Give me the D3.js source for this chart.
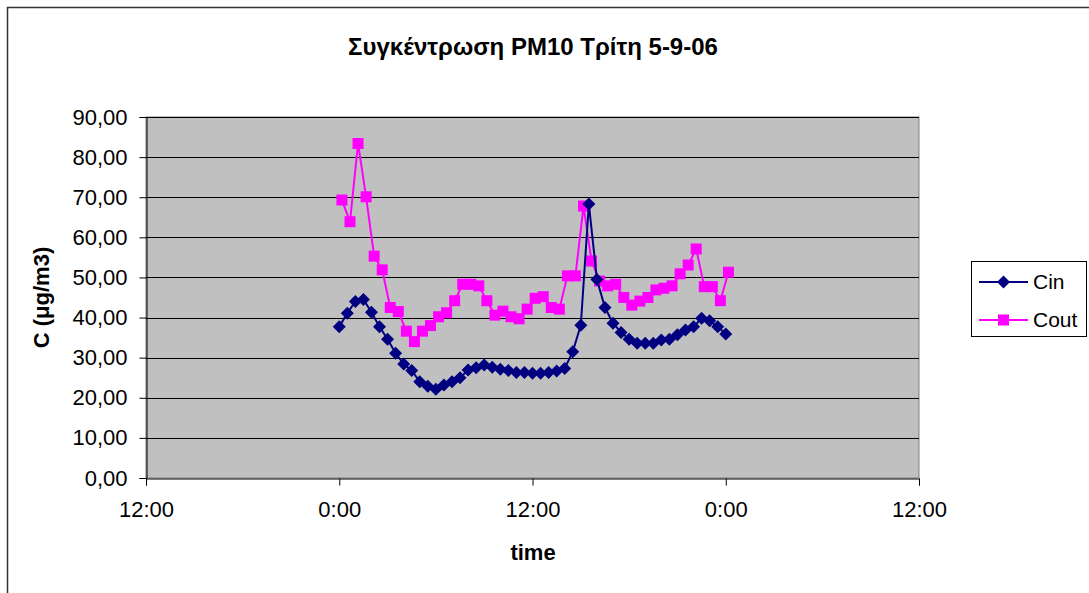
<!DOCTYPE html>
<html>
<head>
<meta charset="utf-8">
<script src="https://cdn.jsdelivr.net/npm/d3@7"></script>
<style>
  html, body { margin: 0; padding: 0; background: #fff; }
  svg { display: block; font-family: "Liberation Sans", Arial, sans-serif; }
</style>
</head>
<body>
<svg id="chart" width="1089" height="593"></svg>
<script>
// PM10 concentration, indoor (Cin) and outdoor (Cout), Tuesday 5-9-06
const chartTitle = "Συγκέντρωση PM10 Τρίτη 5-9-06";
const xTitle = "time";
const yTitle = "C (μg/m3)";
const seriesNames = ["Cin", "Cout"];

const cinTimes = ["0:00","0:30","1:00","1:30","2:00","2:30","3:00","3:30","4:00","4:30",
  "5:00","5:30","6:00","6:30","7:00","7:30","8:00","8:30","9:00","9:30",
  "10:00","10:30","11:00","11:30","12:00","12:30","13:00","13:30","14:00","14:30",
  "15:00","15:30","16:00","16:30","17:00","17:30","18:00","18:30","19:00","19:30",
  "20:00","20:30","21:00","21:30","22:00","22:30","23:00","23:30","24:00"];
const cinValues = [37.7, 41.1, 44.0, 44.5, 41.3, 37.7, 34.6, 31.1, 28.4, 26.8,
  24.0, 22.9, 22.1, 23.2, 24.0, 25.0, 26.9, 27.5, 28.2, 27.6,
  27.1, 26.8, 26.3, 26.3, 26.1, 26.1, 26.3, 26.7, 27.3, 31.5,
  38.1, 68.3, 49.5, 42.5, 38.6, 36.3, 34.6, 33.6, 33.6, 33.6,
  34.4, 34.6, 35.7, 36.9, 37.7, 39.8, 39.2, 37.7, 35.9];

const coutTimes = ["0:10","0:40","1:10","1:40","2:10","2:40","3:10","3:40","4:10","4:40",
  "5:10","5:40","6:10","6:40","7:10","7:40","8:10","8:40","9:10","9:40",
  "10:10","10:40","11:10","11:40","12:10","12:40","13:10","13:40","14:10","14:40",
  "15:10","15:40","16:10","16:40","17:10","17:40","18:10","18:40","19:10","19:40",
  "20:10","20:40","21:10","21:40","22:10","22:40","23:10","23:40","24:10"];
const coutValues = [69.3, 63.9, 83.4, 70.1, 55.3, 51.9, 42.5, 41.5, 36.6, 34.0,
  36.6, 38.0, 40.2, 41.2, 44.2, 48.3, 48.3, 47.9, 44.2, 40.6,
  41.6, 40.2, 39.7, 42.1, 44.8, 45.2, 42.5, 42.1, 50.4, 50.4,
  67.8, 54.1, 49.1, 47.9, 48.3, 45.0, 43.1, 44.1, 45.0, 46.9,
  47.3, 47.9, 50.9, 53.1, 57.1, 47.7, 47.7, 44.2, 51.3];

const xTickHours = [-12, 0, 12, 24, 36];
const xTickLabels = ["12:00", "0:00", "12:00", "0:00", "12:00"];
const yTickValues = [0, 10, 20, 30, 40, 50, 60, 70, 80, 90];
const yTickLabels = ["0,00", "10,00", "20,00", "30,00", "40,00", "50,00", "60,00", "70,00", "80,00", "90,00"];

const toHours = s => { const [h, m] = s.split(":").map(Number); return h + m / 60; };

const svg = d3.select("#chart");
const plot = { left: 146, right: 919, top: 117, bottom: 478 };

const x = d3.scaleLinear().domain([-12, 36]).range([plot.left, plot.right]);
const y = d3.scaleLinear().domain([0, 90]).range([plot.bottom, plot.top]);

// outer chart frame
svg.append("rect").attr("x", 7.5).attr("y", 7.5).attr("width", 1200).attr("height", 700)
  .attr("fill", "#fff").attr("stroke", "#333").attr("stroke-width", 1.5);

// plot area
svg.append("rect").attr("x", plot.left).attr("y", plot.top)
  .attr("width", plot.right - plot.left).attr("height", plot.bottom - plot.top)
  .attr("fill", "#c0c0c0").attr("stroke", "#808080").attr("stroke-width", 1);

// horizontal gridlines
svg.append("g").selectAll("line").data(yTickValues.slice(1)).join("line")
  .attr("x1", plot.left).attr("x2", plot.right)
  .attr("y1", d => Math.round(y(d)) + 0.5).attr("y2", d => Math.round(y(d)) + 0.5)
  .attr("stroke", "#000").attr("stroke-width", 1);

// y axis
const yAxis = d3.axisLeft(y).tickValues(yTickValues)
  .tickFormat((d, i) => yTickLabels[i]).tickSize(7).tickPadding(12);
const gy = svg.append("g").attr("transform", `translate(${plot.left + 0.5},0)`).call(yAxis);
gy.select(".domain").attr("stroke", "#000");
gy.selectAll(".tick line").attr("stroke", "#000");
gy.selectAll(".tick text").attr("font-size", 22).attr("fill", "#000")
  .attr("font-family", "'Liberation Sans', Arial, sans-serif");

// x axis
const xAxis = d3.axisBottom(x).tickValues(xTickHours)
  .tickFormat((d, i) => xTickLabels[i]).tickSize(7).tickPadding(16);
const gx = svg.append("g").attr("transform", `translate(0,${plot.bottom + 0.5})`).call(xAxis);
gx.select(".domain").attr("stroke", "#000");
gx.selectAll(".tick line").attr("stroke", "#000");
gx.selectAll(".tick text").attr("font-size", 22).attr("fill", "#000")
  .attr("font-family", "'Liberation Sans', Arial, sans-serif");

// series
const cinData = cinTimes.map((t, i) => ({ h: toHours(t), v: cinValues[i] }));
const coutData = coutTimes.map((t, i) => ({ h: toHours(t), v: coutValues[i] }));
const line = d3.line().x(d => x(d.h)).y(d => y(d.v));

const cinColor = "#000080", coutColor = "#ff00ff";
const diamond = "M0,-6.5L6.5,0L0,6.5L-6.5,0Z";
const square = "M-5.5,-5.5H5.5V5.5H-5.5Z";

svg.append("path").datum(coutData).attr("d", line)
  .attr("fill", "none").attr("stroke", coutColor).attr("stroke-width", 2);
svg.append("g").selectAll("path").data(coutData).join("path")
  .attr("transform", d => `translate(${x(d.h)},${y(d.v)})`)
  .attr("d", square).attr("fill", coutColor);

svg.append("path").datum(cinData).attr("d", line)
  .attr("fill", "none").attr("stroke", cinColor).attr("stroke-width", 2);
svg.append("g").selectAll("path").data(cinData).join("path")
  .attr("transform", d => `translate(${x(d.h)},${y(d.v)})`)
  .attr("d", diamond).attr("fill", cinColor);

// titles
svg.append("text").attr("x", 533).attr("y", 55).attr("text-anchor", "middle")
  .attr("font-size", 24).attr("font-weight", "bold").text(chartTitle);
svg.append("text").attr("x", 533).attr("y", 560).attr("text-anchor", "middle")
  .attr("font-size", 22).attr("font-weight", "bold").text(xTitle);
svg.append("text").attr("transform", `translate(49,${(plot.top + plot.bottom) / 2}) rotate(-90)`)
  .attr("text-anchor", "middle").attr("font-size", 22).attr("font-weight", "bold").text(yTitle);

// legend
const lg = svg.append("g");
lg.append("rect").attr("x", 971.5).attr("y", 261.5).attr("width", 115).attr("height", 75)
  .attr("fill", "#fff").attr("stroke", "#000").attr("stroke-width", 1);
const legendItems = [
  { name: seriesNames[0], color: cinColor, shape: diamond, yy: 282 },
  { name: seriesNames[1], color: coutColor, shape: square, yy: 320 }
];
legendItems.forEach(it => {
  lg.append("line").attr("x1", 979).attr("x2", 1028).attr("y1", it.yy).attr("y2", it.yy)
    .attr("stroke", it.color).attr("stroke-width", 2);
  lg.append("path").attr("transform", `translate(1003.5,${it.yy})`).attr("d", it.shape).attr("fill", it.color);
  lg.append("text").attr("x", 1033).attr("y", it.yy + 7).attr("font-size", 21).text(it.name);
});
</script>
</body>
</html>
